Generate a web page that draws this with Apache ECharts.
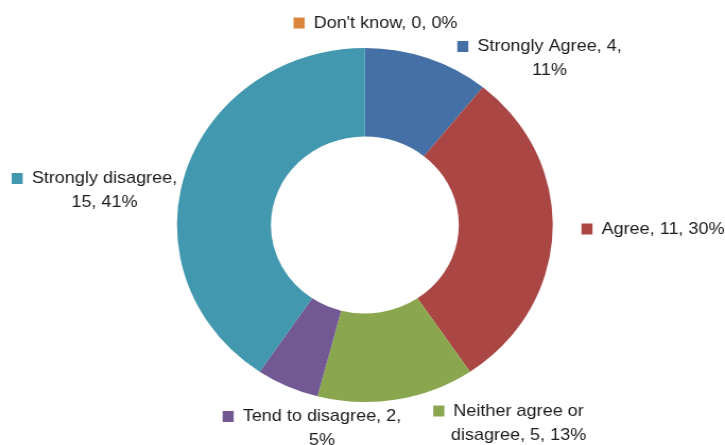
<!DOCTYPE html>
<html><head><meta charset="utf-8">
<script src="https://cdn.jsdelivr.net/npm/echarts@6/dist/echarts.min.js"></script>
<style>html,body{margin:0;padding:0;background:#fff;overflow:hidden}#wrap{width:725px;height:445px;overflow:hidden}#c{width:683px;height:445px;transform:scale(1.0615,1);transform-origin:0 0}</style>
</head><body><div id="wrap"><div id="c"></div></div>
<script>
// Data
const categories = ["Strongly Agree", "Agree", "Neither agree or disagree", "Tend to disagree", "Strongly disagree", "Don't know"];
const counts = [4, 11, 5, 2, 15, 0];
const firstLineWords = [3, 0, 3, 4, 2, 0];
// Styles / layout (separate from data)
const colors = ["#4570A5", "#AA4744", "#8AA64F", "#725994", "#4298AE", "#DB853D"];
const labelAnchors = [[517.7, 34.5], [624.6, 217], [488.5, 399], [303.3, 404.5], [98.4, 166.5], [363.2, 11]];

const MW = 10.4, GW = 8.5;
const rich = {
  g: { width: GW },
  sp: { width: MW + GW },
  t: { fontSize: 17, lineHeight: 24, color: "#1c1c1c", fontFamily: "Liberation Sans, Arial, sans-serif" }
};
colors.forEach((c, i) => { rich["m" + i] = { width: MW, height: 11, backgroundColor: c }; });

const chart = echarts.init(document.getElementById("c"), null, { renderer: "canvas" });
chart.setOption({
  animation: false,
  backgroundColor: "#fff",
  series: [{
    type: "pie",
    center: [343.7, 225],
    radius: [88.5, 177],
    startAngle: 90,
    clockwise: true,
    percentPrecision: 0,
    avoidLabelOverlap: false,
    itemStyle: { borderWidth: 0 },
    emphasis: { disabled: true },
    data: categories.map((n, i) => ({ name: n, value: counts[i], itemStyle: { color: colors[i] } })),
    label: {
      show: true,
      position: "outside",
      align: "center",
      fontSize: 17,
      lineHeight: 24,
      color: "#1c1c1c",
      fontFamily: "Liberation Sans, Arial, sans-serif",
      rich: rich,
      formatter: function (p) {
        const i = p.dataIndex;
        const text = p.name + ", " + p.value + ", " + p.percent + "%";
        const words = text.split(" ");
        const n = firstLineWords[i];
        let l1 = text, l2 = null;
        if (n > 0 && n < words.length) { l1 = words.slice(0, n).join(" "); l2 = words.slice(n).join(" "); }
        let s = "{m" + i + "|}{g|}{t|" + l1 + "}{sp|}";
        if (l2) s += "\n{t|" + l2 + "}";
        return s;
      }
    },
    labelLine: { show: false },
    labelLayout: function (p) {
      const a = labelAnchors[p.dataIndex];
      return { x: a[0], y: a[1], align: "center", verticalAlign: "top", hideOverlap: false, moveOverlap: false };
    }
  }]
});
</script></body></html>
